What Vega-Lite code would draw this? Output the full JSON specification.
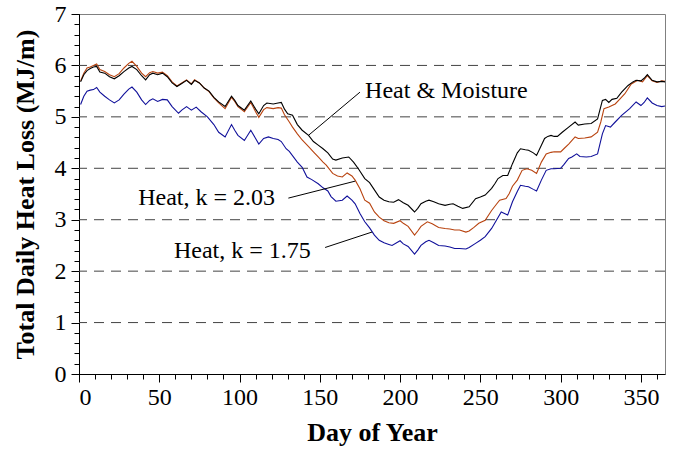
{
 "$schema": "https://vega.github.io/schema/vega-lite/v6.json",
 "width": 586, "height": 360,
 "autosize": {"type": "none"},
 "padding": {"left": 79, "top": 14, "right": 9, "bottom": 79},
 "background": "white",
 "config": {
  "view": {"stroke": "#808080", "strokeWidth": 1},
  "font": "Liberation Serif",
  "axis": {"domainColor": "black", "tickColor": "black", "labelColor": "black", "titleColor": "black", "labelFont": "Liberation Serif", "titleFont": "Liberation Serif", "grid": false}
 },
 "datasets": {
  "grid": [{"v":1},{"v":2},{"v":3},{"v":4},{"v":5},{"v":6}],
  "hm": [
   {"d":1,"v":5.68},{"d":3,"v":5.82},{"d":5,"v":5.9},{"d":7,"v":5.94},{"d":9,"v":5.97},{"d":11,"v":5.98},{"d":13,"v":5.87},{"d":16,"v":5.85},{"d":19,"v":5.78},{"d":22,"v":5.74},{"d":25,"v":5.8},{"d":28,"v":5.88},{"d":31,"v":5.95},{"d":33,"v":5.98},{"d":36,"v":5.92},{"d":39,"v":5.8},{"d":41.5,"v":5.72},{"d":44,"v":5.82},{"d":46,"v":5.85},{"d":49,"v":5.82},{"d":52,"v":5.85},{"d":55,"v":5.78},{"d":58,"v":5.66},{"d":61,"v":5.59},{"d":64,"v":5.65},{"d":67,"v":5.71},{"d":70,"v":5.63},{"d":72,"v":5.71},{"d":75,"v":5.66},{"d":78,"v":5.56},{"d":81,"v":5.5},{"d":84,"v":5.38},{"d":87,"v":5.29},{"d":91,"v":5.2},{"d":95,"v":5.4},{"d":97,"v":5.32},{"d":99,"v":5.22},{"d":103,"v":5.13},{"d":107,"v":5.31},{"d":110,"v":5.15},{"d":112,"v":5.06},{"d":115,"v":5.22},{"d":117,"v":5.27},{"d":121,"v":5.25},{"d":124,"v":5.27},{"d":126,"v":5.28},{"d":128,"v":5.15},{"d":130,"v":5.06},{"d":133,"v":5.03},{"d":136,"v":4.85},{"d":139,"v":4.74},{"d":143,"v":4.64},{"d":146,"v":4.52},{"d":149,"v":4.45},{"d":152,"v":4.38},{"d":155,"v":4.3},{"d":158,"v":4.18},{"d":160,"v":4.16},{"d":164,"v":4.2},{"d":168,"v":4.22},{"d":171,"v":4.12},{"d":174,"v":3.99},{"d":178,"v":3.8},{"d":181,"v":3.72},{"d":184,"v":3.58},{"d":187,"v":3.44},{"d":190,"v":3.38},{"d":193,"v":3.35},{"d":196,"v":3.34},{"d":199,"v":3.39},{"d":202,"v":3.33},{"d":205,"v":3.28},{"d":209,"v":3.15},{"d":211,"v":3.22},{"d":213,"v":3.31},{"d":216,"v":3.36},{"d":218,"v":3.38},{"d":221,"v":3.35},{"d":224,"v":3.31},{"d":228,"v":3.28},{"d":231,"v":3.3},{"d":233,"v":3.31},{"d":236,"v":3.26},{"d":239,"v":3.22},{"d":243,"v":3.25},{"d":247,"v":3.41},{"d":250,"v":3.44},{"d":253,"v":3.48},{"d":257,"v":3.61},{"d":259,"v":3.7},{"d":261,"v":3.8},{"d":264,"v":3.86},{"d":267,"v":3.86},{"d":270,"v":4.09},{"d":273,"v":4.3},{"d":275,"v":4.38},{"d":278,"v":4.36},{"d":280,"v":4.35},{"d":283,"v":4.3},{"d":285,"v":4.25},{"d":288,"v":4.45},{"d":290,"v":4.58},{"d":292,"v":4.62},{"d":294,"v":4.64},{"d":296,"v":4.62},{"d":298,"v":4.62},{"d":301,"v":4.7},{"d":305,"v":4.8},{"d":309,"v":4.9},{"d":311,"v":4.84},{"d":315,"v":4.86},{"d":319,"v":4.87},{"d":323,"v":4.96},{"d":326,"v":5.32},{"d":328,"v":5.34},{"d":330,"v":5.28},{"d":332,"v":5.34},{"d":335,"v":5.36},{"d":338,"v":5.48},{"d":342,"v":5.61},{"d":345,"v":5.68},{"d":347,"v":5.71},{"d":350,"v":5.7},{"d":352,"v":5.75},{"d":354,"v":5.82},{"d":357,"v":5.71},{"d":360,"v":5.68},{"d":363,"v":5.69},{"d":365,"v":5.68}
  ],
  "k203": [
   {"d":1,"v":5.7},{"d":3,"v":5.85},{"d":5,"v":5.95},{"d":7,"v":5.97},{"d":9,"v":6.0},{"d":11,"v":6.03},{"d":13,"v":5.92},{"d":16,"v":5.88},{"d":19,"v":5.82},{"d":22,"v":5.78},{"d":25,"v":5.84},{"d":28,"v":5.95},{"d":31,"v":6.04},{"d":33,"v":6.08},{"d":36,"v":5.98},{"d":39,"v":5.85},{"d":41.5,"v":5.78},{"d":44,"v":5.86},{"d":46,"v":5.88},{"d":49,"v":5.85},{"d":52,"v":5.87},{"d":55,"v":5.8},{"d":58,"v":5.68},{"d":61,"v":5.6},{"d":64,"v":5.66},{"d":67,"v":5.72},{"d":70,"v":5.64},{"d":72,"v":5.72},{"d":75,"v":5.66},{"d":78,"v":5.56},{"d":81,"v":5.49},{"d":84,"v":5.37},{"d":87,"v":5.27},{"d":91,"v":5.16},{"d":95,"v":5.38},{"d":97,"v":5.3},{"d":99,"v":5.2},{"d":103,"v":5.1},{"d":107,"v":5.28},{"d":110,"v":5.1},{"d":112,"v":4.99},{"d":115,"v":5.14},{"d":117,"v":5.18},{"d":121,"v":5.16},{"d":124,"v":5.18},{"d":126,"v":5.17},{"d":128,"v":5.04},{"d":131,"v":4.9},{"d":133,"v":4.8},{"d":136,"v":4.67},{"d":139,"v":4.55},{"d":143,"v":4.42},{"d":146,"v":4.32},{"d":149,"v":4.22},{"d":152,"v":4.12},{"d":154,"v":4.06},{"d":158,"v":3.9},{"d":161,"v":3.85},{"d":164,"v":3.83},{"d":167,"v":3.91},{"d":170,"v":3.85},{"d":172,"v":3.77},{"d":175,"v":3.6},{"d":178,"v":3.38},{"d":181,"v":3.32},{"d":184,"v":3.15},{"d":187,"v":3.05},{"d":190,"v":2.98},{"d":193,"v":2.94},{"d":196,"v":2.93},{"d":200,"v":2.98},{"d":202,"v":2.93},{"d":205,"v":2.87},{"d":209,"v":2.7},{"d":211,"v":2.78},{"d":213,"v":2.87},{"d":217,"v":2.96},{"d":220,"v":2.92},{"d":224,"v":2.85},{"d":228,"v":2.83},{"d":231,"v":2.82},{"d":234,"v":2.8},{"d":237,"v":2.8},{"d":241,"v":2.76},{"d":243,"v":2.78},{"d":246,"v":2.85},{"d":249,"v":2.93},{"d":253,"v":2.99},{"d":257,"v":3.18},{"d":260,"v":3.3},{"d":262,"v":3.38},{"d":266,"v":3.41},{"d":268,"v":3.51},{"d":270,"v":3.65},{"d":273,"v":3.77},{"d":276,"v":3.96},{"d":279,"v":3.99},{"d":282,"v":3.96},{"d":285,"v":3.9},{"d":288,"v":4.12},{"d":291,"v":4.28},{"d":294,"v":4.31},{"d":296,"v":4.32},{"d":300,"v":4.32},{"d":302,"v":4.38},{"d":305,"v":4.47},{"d":309,"v":4.61},{"d":311,"v":4.58},{"d":315,"v":4.59},{"d":319,"v":4.61},{"d":323,"v":4.7},{"d":325,"v":4.9},{"d":327,"v":5.16},{"d":330,"v":5.19},{"d":334,"v":5.25},{"d":337,"v":5.35},{"d":340,"v":5.45},{"d":344,"v":5.64},{"d":348,"v":5.71},{"d":351,"v":5.68},{"d":354,"v":5.8},{"d":357,"v":5.7},{"d":360,"v":5.67},{"d":363,"v":5.7},{"d":365,"v":5.69}
  ],
  "k175": [
   {"d":1,"v":5.24},{"d":3,"v":5.4},{"d":5,"v":5.5},{"d":7,"v":5.52},{"d":9,"v":5.53},{"d":11,"v":5.57},{"d":13,"v":5.48},{"d":16,"v":5.4},{"d":19,"v":5.33},{"d":22,"v":5.27},{"d":25,"v":5.33},{"d":28,"v":5.44},{"d":31,"v":5.54},{"d":33,"v":5.58},{"d":36,"v":5.48},{"d":39,"v":5.33},{"d":41.5,"v":5.24},{"d":44,"v":5.32},{"d":46,"v":5.35},{"d":49,"v":5.3},{"d":52,"v":5.34},{"d":55,"v":5.33},{"d":58,"v":5.2},{"d":62,"v":5.07},{"d":64,"v":5.13},{"d":67,"v":5.2},{"d":70,"v":5.13},{"d":73,"v":5.19},{"d":76,"v":5.1},{"d":80,"v":5.0},{"d":84,"v":4.85},{"d":87,"v":4.7},{"d":91,"v":4.61},{"d":95,"v":4.85},{"d":97,"v":4.74},{"d":99,"v":4.64},{"d":103,"v":4.54},{"d":107,"v":4.74},{"d":110,"v":4.58},{"d":112,"v":4.47},{"d":115,"v":4.58},{"d":118,"v":4.61},{"d":121,"v":4.58},{"d":124,"v":4.56},{"d":126,"v":4.52},{"d":129,"v":4.38},{"d":131,"v":4.33},{"d":136,"v":4.12},{"d":139,"v":4.02},{"d":142,"v":3.83},{"d":145,"v":3.78},{"d":149,"v":3.7},{"d":152,"v":3.62},{"d":155,"v":3.56},{"d":157,"v":3.45},{"d":160,"v":3.36},{"d":164,"v":3.38},{"d":167,"v":3.46},{"d":170,"v":3.38},{"d":172,"v":3.31},{"d":175,"v":3.12},{"d":178,"v":2.96},{"d":181,"v":2.84},{"d":184,"v":2.7},{"d":187,"v":2.6},{"d":190,"v":2.55},{"d":193,"v":2.52},{"d":195,"v":2.5},{"d":200,"v":2.59},{"d":202,"v":2.53},{"d":205,"v":2.48},{"d":209,"v":2.33},{"d":211,"v":2.41},{"d":213,"v":2.5},{"d":216,"v":2.57},{"d":218,"v":2.6},{"d":221,"v":2.55},{"d":224,"v":2.5},{"d":228,"v":2.49},{"d":231,"v":2.47},{"d":234,"v":2.44},{"d":237,"v":2.44},{"d":241,"v":2.43},{"d":243,"v":2.46},{"d":247,"v":2.54},{"d":250,"v":2.6},{"d":253,"v":2.67},{"d":257,"v":2.83},{"d":260,"v":2.99},{"d":263,"v":3.15},{"d":265,"v":3.12},{"d":267,"v":3.09},{"d":270,"v":3.35},{"d":273,"v":3.55},{"d":275,"v":3.67},{"d":278,"v":3.65},{"d":280,"v":3.64},{"d":283,"v":3.59},{"d":285,"v":3.56},{"d":288,"v":3.77},{"d":291,"v":3.96},{"d":294,"v":3.99},{"d":296,"v":3.99},{"d":300,"v":4.0},{"d":302,"v":4.07},{"d":305,"v":4.19},{"d":307,"v":4.22},{"d":310,"v":4.28},{"d":312,"v":4.23},{"d":316,"v":4.22},{"d":319,"v":4.23},{"d":323,"v":4.28},{"d":326,"v":4.67},{"d":328,"v":4.83},{"d":331,"v":4.8},{"d":334,"v":4.9},{"d":338,"v":5.03},{"d":343,"v":5.16},{"d":347,"v":5.29},{"d":350,"v":5.22},{"d":352,"v":5.28},{"d":354,"v":5.37},{"d":357,"v":5.27},{"d":360,"v":5.22},{"d":363,"v":5.2},{"d":365,"v":5.21}
  ],
  "leaders": [
   {"x1":175,"y1":5.48,"x2":142.9,"y2":4.64},
   {"x1":130.4,"y1":3.42,"x2":172,"y2":3.75},
   {"x1":153.3,"y1":2.46,"x2":182.5,"y2":2.76}
  ],
  "labelsLeft": [{"d":178.2,"v":5.37,"t":"Heat & Moisture"}],
  "labelsRight": [{"d":122.1,"v":3.29,"t":"Heat, k = 2.03"},{"d":144.4,"v":2.25,"t":"Heat, k = 1.75"}]
 },
 "layer": [
  {
   "data": {"name": "grid"},
   "mark": {"type": "rule", "color": "#444444", "strokeDash": [10, 7], "strokeWidth": 1},
   "encoding": {"y": {"field": "v", "type": "quantitative", "scale": {"domain": [0, 7], "nice": false}, "axis": null}}
  },
  {
   "data": {"name": "k175"},
   "mark": {"type": "line", "color": "#10109a", "strokeWidth": 1.1},
   "encoding": {
    "x": {"field": "d", "type": "quantitative", "scale": {"domain": [0, 365], "nice": false}, "axis": null},
    "y": {"field": "v", "type": "quantitative", "scale": {"domain": [0, 7], "nice": false}, "axis": null}
   }
  },
  {
   "data": {"name": "k203"},
   "mark": {"type": "line", "color": "#b8430f", "strokeWidth": 1.1},
   "encoding": {
    "x": {"field": "d", "type": "quantitative", "scale": {"domain": [0, 365], "nice": false}, "axis": null},
    "y": {"field": "v", "type": "quantitative", "scale": {"domain": [0, 7], "nice": false}, "axis": null}
   }
  },
  {
   "data": {"name": "hm"},
   "mark": {"type": "line", "color": "#000000", "strokeWidth": 1.1},
   "encoding": {
    "x": {"field": "d", "type": "quantitative", "scale": {"domain": [0, 365], "nice": false},
     "axis": {"orient": "bottom", "values": [0,50,100,150,200,250,300,350], "title": "Day of Year", "tickSize": 8, "labelFontSize": 24, "labelPadding": 3, "titleFontSize": 26, "titleFontWeight": "bold", "titlePadding": 10, "domainWidth": 1}},
    "y": {"field": "v", "type": "quantitative", "scale": {"domain": [0, 7], "nice": false},
     "axis": {"orient": "left", "values": [0,1,2,3,4,5,6,7], "title": "Total Daily Heat Loss (MJ/m)", "tickSize": 8, "labelFontSize": 24, "labelPadding": 5, "titleFontSize": 26, "titleFontWeight": "bold", "titlePadding": 16, "domainWidth": 1}}
   }
  },
  {
   "data": {"name": "leaders"},
   "mark": {"type": "rule", "color": "black", "strokeWidth": 1},
   "encoding": {
    "x": {"field": "x1", "type": "quantitative", "scale": {"domain": [0, 365], "nice": false},
     "axis": {"orient": "bottom", "values": [0,10,20,30,40,50,60,70,80,90,100,110,120,130,140,150,160,170,180,190,200,210,220,230,240,250,260,270,280,290,300,310,320,330,340,350,360], "labels": false, "domain": false, "tickSize": 5, "title": null}},
    "y": {"field": "y1", "type": "quantitative", "scale": {"domain": [0, 7], "nice": false},
     "axis": {"orient": "left", "values": [0,0.2,0.4,0.6,0.8,1,1.2,1.4,1.6,1.8,2,2.2,2.4,2.6,2.8,3,3.2,3.4,3.6,3.8,4,4.2,4.4,4.6,4.8,5,5.2,5.4,5.6,5.8,6,6.2,6.4,6.6,6.8,7], "labels": false, "domain": false, "tickSize": 5, "title": null}},
    "x2": {"field": "x2"},
    "y2": {"field": "y2"}
   }
  },
  {
   "data": {"name": "labelsLeft"},
   "mark": {"type": "text", "align": "left", "baseline": "alphabetic", "fontSize": 24, "font": "Liberation Serif", "color": "black"},
   "encoding": {
    "x": {"field": "d", "type": "quantitative", "scale": {"domain": [0, 365], "nice": false}, "axis": null},
    "y": {"field": "v", "type": "quantitative", "scale": {"domain": [0, 7], "nice": false}, "axis": null},
    "text": {"field": "t"}
   }
  },
  {
   "data": {"name": "labelsRight"},
   "mark": {"type": "text", "align": "right", "baseline": "alphabetic", "fontSize": 24, "font": "Liberation Serif", "color": "black"},
   "encoding": {
    "x": {"field": "d", "type": "quantitative", "scale": {"domain": [0, 365], "nice": false}, "axis": null},
    "y": {"field": "v", "type": "quantitative", "scale": {"domain": [0, 7], "nice": false}, "axis": null},
    "text": {"field": "t"}
   }
  }
 ],
 "resolve": {"axis": {"x": "independent", "y": "independent"}}
}
